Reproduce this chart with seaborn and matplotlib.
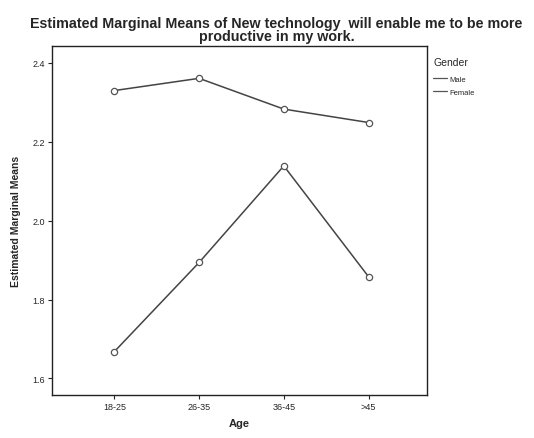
import matplotlib
matplotlib.use("Agg")
import matplotlib.pyplot as plt
from matplotlib.lines import Line2D
import seaborn as sns
import pandas as pd

# values
age_groups = ["18-25", "26-35", "36-45", ">45"]
male_means = [2.330, 2.361, 2.283, 2.249]
female_means = [1.668, 1.894, 2.139, 1.858]
y_ticks = [1.6, 1.8, 2.0, 2.2, 2.4]

df = pd.DataFrame({
    "Age": age_groups * 2,
    "Mean": male_means + female_means,
    "Gender": ["Male"] * 4 + ["Female"] * 4,
})
df["pos"] = df["Age"].map({a: i for i, a in enumerate(age_groups)})

sns.set_style("white")
plt.rcParams["font.family"] = ["Liberation Sans", "DejaVu Sans"]

fig = plt.figure(figsize=(5.34, 4.39), dpi=100)
ax = fig.add_axes([52 / 534, 1 - 396 / 439, 375 / 534, 349 / 439])

line_col = "#444444"
sns.lineplot(data=df, x="pos", y="Mean", hue="Gender",
             palette=[line_col, line_col], marker="o", markersize=4.5,
             markerfacecolor="white", markeredgecolor="#555555",
             markeredgewidth=0.9, linewidth=1.1, legend=False, ax=ax)

ax.set_xlim(-0.736, 3.69)
ax.set_ylim(1.558, 2.443)
ax.set_xticks(range(len(age_groups)))
ax.set_xticklabels(age_groups, fontsize=6.5)
ax.set_yticks(y_ticks)
ax.set_yticklabels([f"{v:.1f}" for v in y_ticks], fontsize=6.5)
ax.tick_params(axis="both", direction="out", length=3, width=0.8,
               color="#222222", pad=2, bottom=True, left=True)

for s in ax.spines.values():
    s.set_color("#222222")
    s.set_linewidth(1.0)

ax.set_xlabel("Age", fontsize=8, fontweight="bold", labelpad=5)
ax.set_ylabel("Estimated Marginal Means", fontsize=7.5, fontweight="bold",
              labelpad=8)

fig.suptitle("Estimated Marginal Means of New technology  will enable me to be more\n"
             "productive in my work.",
             x=0.518, y=0.962, fontsize=10.3, fontweight="bold", linespacing=0.95)

handles = [Line2D([0], [0], color="#555555", lw=0.9) for _ in range(2)]
leg = fig.legend(handles, ["Male", "Female"], title="Gender",
                 loc="upper left", bbox_to_anchor=(428 / 534, 1 - 53 / 439),
                 frameon=False, fontsize=5.5, title_fontsize=7.5,
                 handlelength=1.8, handletextpad=0.3, labelspacing=0.7,
                 borderpad=0.2)
leg._legend_box.align = "left"
leg._legend_box.sep = 6

fig.savefig("out.png", dpi=100)
